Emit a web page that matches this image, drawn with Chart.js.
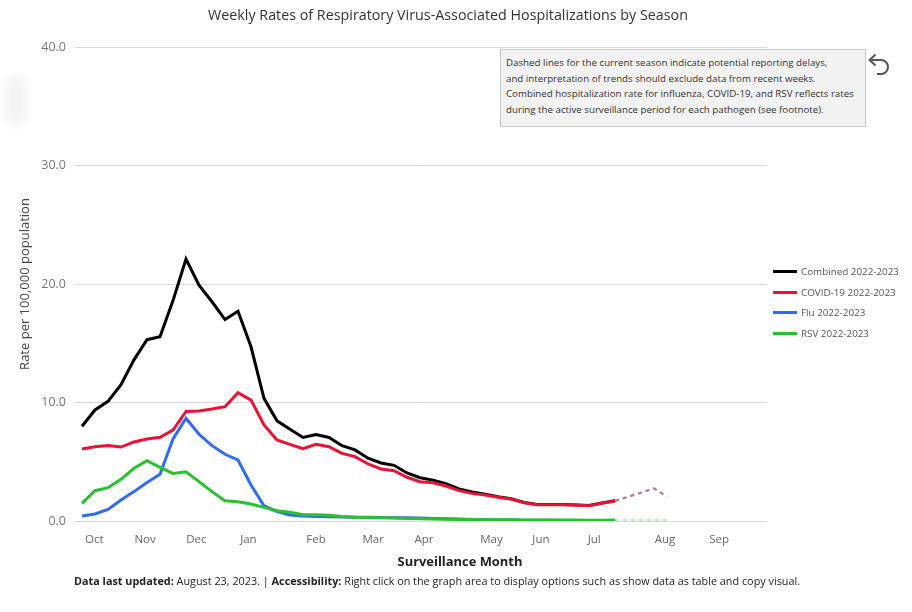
<!DOCTYPE html>
<html>
<head>
<meta charset="utf-8">
<script src="https://cdn.jsdelivr.net/npm/chart.js@4.4.0/dist/chart.umd.min.js"></script>
<style>
  html, body { margin: 0; padding: 0; background: #fff; }
  body { width: 912px; height: 612px; position: relative; overflow: hidden; font-family: "Open Sans", "Noto Sans", sans-serif; }
  #wrap { position: absolute; left: 0; top: 0; width: 912px; height: 612px; }
  .abs { position: absolute; white-space: nowrap; }
  #title { left: 448px; top: 14px; transform: translate(-50%, -50%); font-size: 13px; color: #333; display: inline-block; }
  #note { left: 500px; top: 49px; width: 366px; height: 78px; box-sizing: border-box; background: #f2f2f2; border: 1px solid #c6c6c6; }
  #noteText { position: absolute; left: 5px; top: 5px; display: inline-block; white-space: pre; font-size: 9px; line-height: 15.5px; color: #333; }
  #xtitle { left: 460px; top: 561px; transform: translate(-50%, -50%); font-weight: 700; font-size: 13px; color: #222; display: inline-block; }
  #footer { left: 74px; top: 580px; transform: translate(0, -50%); font-size: 10px; color: #222; display: inline-block; }
  #footer b { font-weight: 700; }
  .legLine { position: absolute; left: 773px; width: 24px; height: 3px; }
  .legText { position: absolute; left: 801px; transform: translate(0, -50%); font-size: 10.5px; color: #555; white-space: nowrap; display: inline-block; }
  #blur { position: absolute; left: 6px; top: 78px; width: 20px; height: 46px; background: #f3f3f3; filter: blur(5px); }
</style>
</head>
<body>
<div id="blur"></div>
<div id="wrap"><canvas id="chart" width="912" height="612"></canvas></div>
<div id="title" class="abs">Weekly Rates of Respiratory Virus-Associated Hospitalizations by Season</div>
<div id="note" class="abs"><span id="noteText">Dashed lines for the current season indicate potential reporting delays,
and interpretation of trends should exclude data from recent weeks.
Combined hospitalization rate for influenza, COVID-19, and RSV reflects rates
during the active surveillance period for each pathogen (see footnote).</span></div>
<svg class="abs" style="left:864px;top:50px" width="30" height="32" viewBox="0 0 30 32">
  <path d="M6 10 H17 A7 7 0 0 1 17 24 H13" fill="none" stroke="#555" stroke-width="2"/>
  <path d="M11.5 4.5 L5.5 10 L11.5 15.5" fill="none" stroke="#555" stroke-width="2"/>
</svg>
<div id="legend"></div>
<div id="xtitle" class="abs">Surveillance Month</div>
<div id="footer" class="abs"><b>Data last updated:</b> August 23, 2023. | <b>Accessibility:</b> Right click on the graph area to display options such as show data as table and copy visual.</div>

<script>
// ---- Data ----
const mmwrWeeks = [40,41,42,43,44,45,46,47,48,49,50,51,52,1,2,3,4,5,6,7,8,9,10,11,12,13,14,15,16,17,18,19,20,21,22,23,24,25,26,27,28,29,30,31,32,33];
const monthLabels = ['Oct','Nov','Dec','Jan','Feb','Mar','Apr','May','Jun','Jul','Aug','Sep'];
const monthTickWeek = [0.95, 4.85, 8.8, 12.8, 18.0, 22.4, 26.3, 31.5, 35.3, 39.4, 44.85, 49.0];
const yTicks = [0, 10, 20, 30, 40];
const lastSolidIndex = 41;

const seriesNames = ['Combined 2022-2023', 'COVID-19 2022-2023', 'Flu 2022-2023', 'RSV 2022-2023'];

const combined = [8.0, 9.37, 10.1, 11.5, 13.6, 15.3, 15.55, 18.6, 22.1, 19.9, 18.5, 17.0, 17.7, 14.7, 10.35, 8.45,
  7.75, 7.05, 7.3, 7.05, 6.35, 6.0, 5.3, 4.9, 4.7, 4.05, 3.65, 3.45, 3.15, 2.7, 2.45, 2.25, 2.05, 1.88, 1.56, 1.4,
  1.4, 1.39, 1.36, 1.3, 1.52, 1.72, 2.05, 2.4, 2.78, 2.08];
const covid = [6.08, 6.27, 6.38, 6.24, 6.67, 6.92, 7.06, 7.68, 9.25, 9.28, 9.45, 9.65, 10.83, 10.2, 8.1, 6.84,
  6.47, 6.1, 6.47, 6.27, 5.71, 5.43, 4.81, 4.39, 4.25, 3.69, 3.32, 3.23, 2.95, 2.56, 2.33, 2.19, 2.0, 1.86, 1.55, 1.38,
  1.38, 1.38, 1.35, 1.29, 1.49, 1.69, 2.02, 2.37, 2.74, 2.05];
const flu = [0.42, 0.59, 0.98, 1.77, 2.48, 3.24, 3.94, 6.92, 8.67, 7.32, 6.36, 5.63, 5.15, 3.04, 1.29, 0.79,
  0.5, 0.42, 0.37, 0.35, 0.33, 0.32, 0.31, 0.3, 0.28, 0.27, 0.25, 0.22, 0.2, 0.16, 0.13, 0.1, 0.09, 0.08, 0.07, 0.06,
  0.06, 0.05, 0.05, 0.05, 0.05, 0.05, 0.05, 0.05, 0.05, 0.05];
const rsv = [1.49, 2.56, 2.81, 3.52, 4.45, 5.09, 4.53, 4.02, 4.16, 3.32, 2.48, 1.71, 1.63, 1.43, 1.15, 0.87,
  0.73, 0.52, 0.52, 0.48, 0.37, 0.31, 0.3, 0.28, 0.26, 0.22, 0.2, 0.17, 0.15, 0.13, 0.12, 0.11, 0.1, 0.1, 0.09, 0.09,
  0.08, 0.08, 0.08, 0.07, 0.07, 0.08, 0.08, 0.08, 0.08, 0.08];

// ---- Styles ----
const seriesColors = ['#000000', '#EE1133', '#2F6BF5', '#2BC02E'];
const dashColors = ['rgba(0,0,0,0.32)', 'rgba(200,50,75,0.5)', null, 'rgba(43,192,46,0.3)'];
const allSeries = [combined, covid, flu, rsv];

Chart.defaults.font.family = '"Open Sans", "Noto Sans", sans-serif';

function solidPart(vals) { return vals.map((v, i) => ({ x: i, y: i <= lastSolidIndex ? v : null })); }
function dashedPart(vals) { return vals.map((v, i) => ({ x: i, y: i >= lastSolidIndex ? v : null })); }

const datasets = [];
allSeries.forEach((vals, k) => {
  datasets.push({
    label: seriesNames[k],
    data: solidPart(vals),
    borderColor: seriesColors[k],
    borderWidth: 3,
    pointRadius: 0,
    tension: 0,
    spanGaps: false,
    order: 4 - k
  });
  if (dashColors[k]) {
    datasets.push({
      label: seriesNames[k] + ' (recent)',
      data: dashedPart(vals),
      borderColor: dashColors[k],
      borderWidth: 2,
      borderDash: [4, 4],
      pointRadius: 0,
      tension: 0,
      spanGaps: false,
      order: 10 - k
    });
  }
});

new Chart(document.getElementById('chart'), {
  type: 'line',
  data: { datasets },
  options: {
    responsive: false,
    animation: false,
    devicePixelRatio: 1,
    layout: { padding: { left: 0, right: 145, top: 47, bottom: 53.2 } },
    plugins: { legend: { display: false }, tooltip: { enabled: false }, title: { display: false } },
    scales: {
      x: {
        type: 'linear',
        bounds: 'data',
        min: -0.615,
        max: 52.69,
        grid: { display: false, drawTicks: false },
        border: { display: false },
        afterBuildTicks: (s) => { s.ticks = monthTickWeek.map(v => ({ value: v })); },
        ticks: {
          autoSkip: false, maxRotation: 0, padding: 12, color: '#666',
          font: { size: 11.5 },
          callback: (v, i) => monthLabels[i]
        }
      },
      y: {
        min: 0, max: 40,
        afterBuildTicks: (s) => { s.ticks = yTicks.map(v => ({ value: v })); },
        ticks: { padding: 8, color: '#777', font: { size: 12.5 }, callback: (v) => Number(v).toFixed(1) },
        grid: { color: '#d9d9d9', lineWidth: 1, drawTicks: false },
        border: { display: false },
        title: { display: true, text: 'Rate per 100,000 population', color: '#444', font: { size: 13 }, padding: { top: 17, bottom: 0 } },
        afterFit: (s) => { s.width = 74; }
      }
    }
  }
});

// ---- Legend (HTML) ----
const legendY = [271, 292, 312, 333];
const leg = document.getElementById('legend');
seriesNames.forEach((name, k) => {
  const line = document.createElement('div');
  line.className = 'legLine';
  line.style.top = (legendY[k] - 1.5) + 'px';
  line.style.background = seriesColors[k];
  leg.appendChild(line);
  const t = document.createElement('div');
  t.className = 'legText';
  t.style.top = legendY[k] + 'px';
  t.textContent = name;
  leg.appendChild(t);
});

// fit text widths to reference widths
function fitTo(el, target) {
  const w = el.getBoundingClientRect().width;
  const fs = parseFloat(getComputedStyle(el).fontSize);
  if (w > 0) el.style.fontSize = (fs * target / w).toFixed(2) + 'px';
}
fitTo(document.getElementById('title'), 480);
fitTo(document.getElementById('noteText'), 348);
fitTo(document.getElementById('footer'), 726);
fitTo(document.getElementById('xtitle'), 125);
const legTexts = document.querySelectorAll('.legText');
const w0 = legTexts[0].getBoundingClientRect().width;
const f0 = parseFloat(getComputedStyle(legTexts[0]).fontSize);
legTexts.forEach(el => el.style.fontSize = (f0 * 98 / w0).toFixed(2) + 'px');
</script>
</body>
</html>
